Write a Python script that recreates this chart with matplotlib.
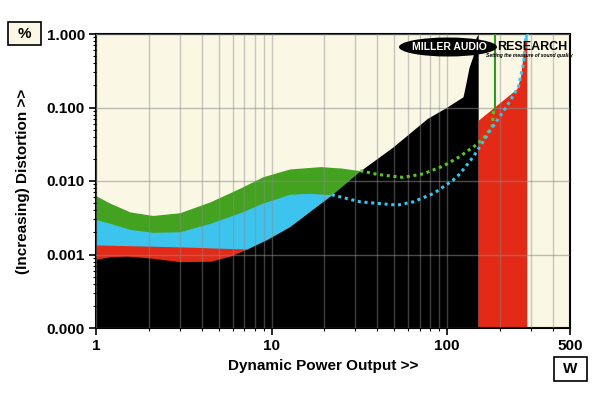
import matplotlib.pyplot as plt
from matplotlib.patches import Ellipse, Rectangle
from matplotlib.ticker import FixedLocator, NullFormatter

plt.rcParams['font.family'] = ['Liberation Sans', 'DejaVu Sans']

# curves (W, %)
green_w = [1, 1.2, 1.56, 2.1, 3, 4.46, 6.6, 8.9, 12.7, 19, 25, 32]
green_top = [0.0063, 0.0050, 0.0038, 0.0034, 0.0037, 0.0052, 0.0080, 0.0114, 0.0146,
             0.0157, 0.0150, 0.0138]

blue_w = [1, 1.2, 1.56, 2.1, 3, 4.46, 6.6, 8.9, 12.7, 16.5, 22]
blue_top = [0.0030, 0.00266, 0.0022, 0.0020, 0.00204, 0.00266, 0.0037, 0.0050, 0.0066,
            0.0068, 0.0065]

red_w = [1, 2, 3.4, 5, 7.2]
red_top = [0.00135, 0.0013, 0.00126, 0.00122, 0.00119]

black_w = [1, 1.2, 1.5, 2, 3, 4.5, 5.8, 7.2, 9.4, 12.7, 22, 32, 49, 77, 100,
           123, 128, 133, 140, 146, 150]
black_top = [0.00086, 0.00093, 0.00095, 0.0009, 0.0008, 0.00081, 0.00095, 0.00118,
             0.0016, 0.0024, 0.0065, 0.0138, 0.029, 0.071, 0.102,
             0.14, 0.22, 0.35, 0.5, 0.9, 1.0]

red2_w = [150, 249, 261, 277, 284]
red2_top = [0.067, 0.18, 0.26, 0.83, 1.0]

gdot_w = [32, 40, 56, 73, 95, 118, 129, 141, 161, 180, 184]
gdot_v = [0.0138, 0.0123, 0.0112, 0.0125, 0.016, 0.0215, 0.0252, 0.029, 0.038, 0.055, 0.093]
gline_w = [186, 186]
gline_v = [0.093, 1.0]

bdot_w = [22, 32, 52, 64, 84, 108, 118, 141, 176, 218, 254, 272, 281]
bdot_v = [0.0065, 0.0052, 0.0047, 0.0052, 0.0068, 0.0103, 0.0125, 0.0215, 0.049,
          0.103, 0.19, 0.40, 0.92]
bline_w = [281, 288]
bline_v = [0.92, 1.0]

y_ticks = [0.0001, 0.001, 0.01, 0.1, 1.0]
y_labels = ['0.000', '0.001', '0.010', '0.100', '1.000']
x_ticks = [1, 10, 100, 500]
x_labels = ['1', '10', '100', '500']

GREEN = '#43a320'
BLUE = '#3cc4ee'
RED = '#e32a17'
CREAM = '#faf7e5'


def main():
    fig = plt.figure(figsize=(6, 3.93), dpi=100)
    ax = fig.add_axes([96 / 600, 1 - 328 / 393, 474 / 600, 294 / 393])
    ax.set_facecolor(CREAM)
    ax.set_xscale('log')
    ax.set_yscale('log')

    ax.fill_between(green_w, 1e-5, green_top, color=GREEN, lw=0)
    ax.fill_between(blue_w, 1e-5, blue_top, color=BLUE, lw=0)
    ax.fill_between(red_w, 1e-5, red_top, color=RED, lw=0)
    ax.fill_between(black_w, 1e-5, black_top, color='black', lw=0)
    ax.fill_between(red2_w, 1e-5, red2_top, color=RED, lw=0)

    ax.plot(gdot_w, gdot_v, color='#55c72a', lw=2.2, dashes=(1, 1.2),
            dash_capstyle='butt', zorder=4)
    ax.plot(gline_w, gline_v, color='#2e9a1a', lw=1.5, zorder=4)
    ax.plot(bdot_w, bdot_v, color='#33c8f2', lw=2.2, dashes=(1, 1.2),
            dash_capstyle='butt', zorder=4)
    ax.plot(bline_w, bline_v, color='#33c8f2', lw=1.5, zorder=4)

    ax.set_xlim(1, 500)
    ax.set_ylim(1e-4, 1)

    ax.set_axisbelow(False)
    ax.xaxis.grid(True, which='both', color='#8a8a8a', alpha=0.45, lw=1.0)
    ax.yaxis.grid(True, which='major', color='#8a8a8a', alpha=0.55, lw=1.0)

    ax.yaxis.set_major_locator(FixedLocator(y_ticks))
    ax.set_yticklabels(y_labels)
    ax.yaxis.set_minor_formatter(NullFormatter())
    ax.xaxis.set_major_locator(FixedLocator(x_ticks))
    ax.set_xticklabels(x_labels)
    ax.xaxis.set_minor_formatter(NullFormatter())

    ax.tick_params(which='major', length=5, width=1.2, labelsize=11, pad=3)
    ax.tick_params(which='minor', length=2.5, width=0.8)
    for lab in ax.get_xticklabels() + ax.get_yticklabels():
        lab.set_fontweight('bold')
    for s in ax.spines.values():
        s.set_linewidth(1.5)

    fig.text(323 / 600, 1 - 366 / 393, 'Dynamic Power Output >>', ha='center',
             va='center', fontsize=11, fontweight='bold')
    fig.text(23 / 600, 1 - 181 / 393, '(Increasing) Distortion >>', ha='center',
             va='center', rotation=90, fontsize=11, fontweight='bold')

    # unit boxes
    fig.patches.append(Rectangle((8 / 600, 1 - 45 / 393), 33 / 600, 23 / 393,
                                 transform=fig.transFigure, facecolor=CREAM,
                                 edgecolor='black', lw=1.2))
    fig.text(24 / 600, 1 - 33.5 / 393, '%', ha='center', va='center',
             fontsize=11, fontweight='bold')
    fig.patches.append(Rectangle((554 / 600, 1 - 381 / 393), 33 / 600, 24 / 393,
                                 transform=fig.transFigure, facecolor='white',
                                 edgecolor='black', lw=1.2))
    fig.text(570.5 / 600, 1 - 369 / 393, 'W', ha='center', va='center',
             fontsize=11, fontweight='bold')

    # logo
    fig.patches.append(Ellipse((448 / 600, 1 - 47 / 393), 98 / 600, 19 / 393,
                               transform=fig.transFigure, facecolor='black',
                               edgecolor='none', zorder=5))
    fig.text(449 / 600, 1 - 47 / 393, 'MILLER AUDIO', ha='center', va='center',
             color='white', fontsize=7.5, fontweight='bold', zorder=6)
    fig.text(532 / 600, 1 - 47 / 393, 'RESEARCH', ha='center', va='center',
             color='black', fontsize=9, fontweight='bold', zorder=6)
    fig.text(529 / 600, 1 - 56 / 393, 'Setting the measure of sound quality',
             ha='center', va='center', color='black', fontsize=3.6,
             fontweight='bold', style='italic', zorder=6)

    fig.savefig('out.png', dpi=100)


if __name__ == '__main__':
    main()
